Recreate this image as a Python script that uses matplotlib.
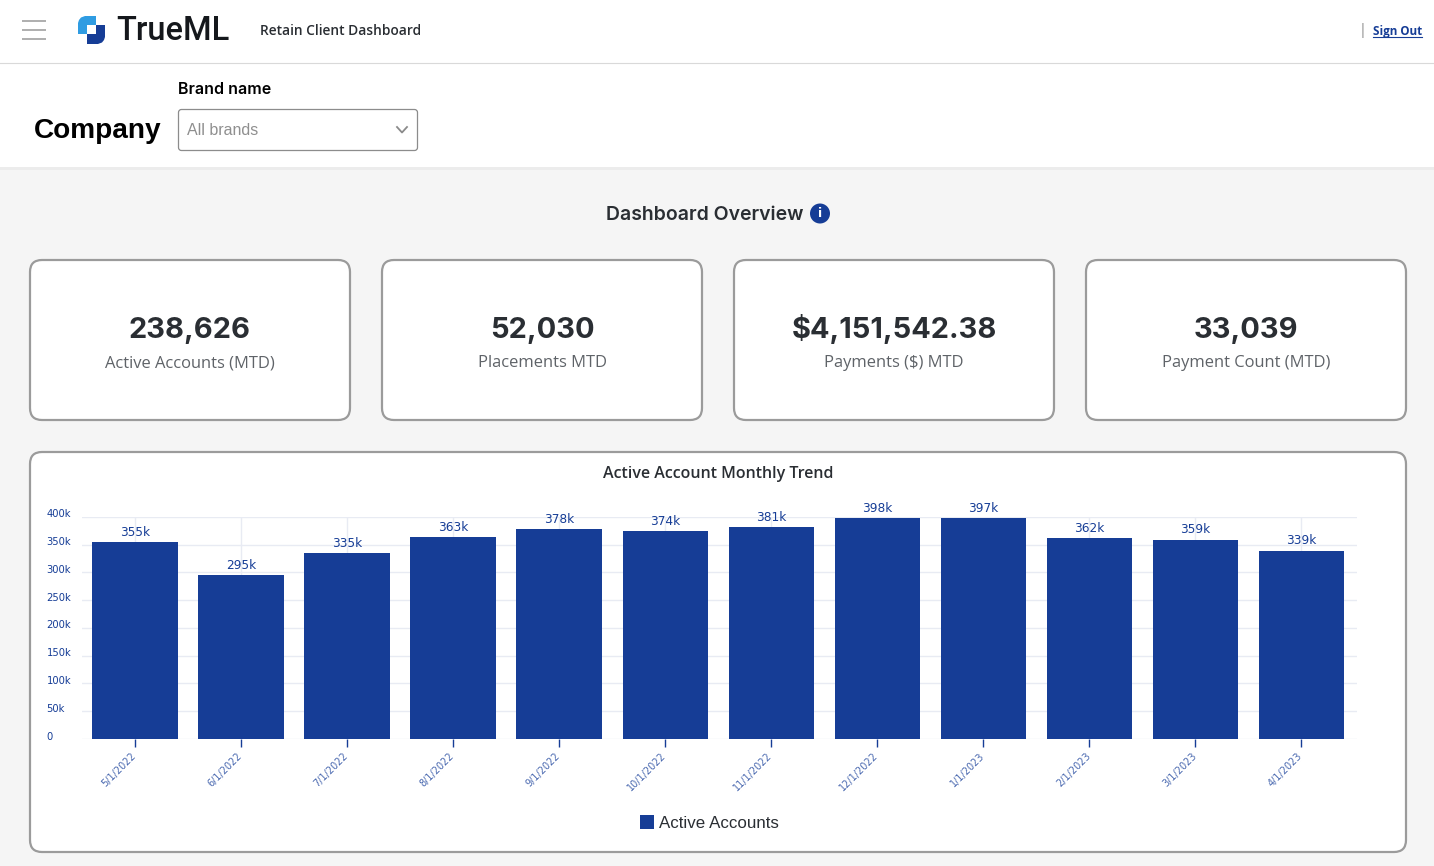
#!/usr/bin/env python

import matplotlib
matplotlib.use("Agg")
import matplotlib.pyplot as plt
from matplotlib.patches import FancyBboxPatch, Polygon, Circle
from matplotlib.transforms import ScaledTranslation

# chart data
months = ["5/1/2022", "6/1/2022", "7/1/2022", "8/1/2022", "9/1/2022", "10/1/2022",
          "11/1/2022", "12/1/2022", "1/1/2023", "2/1/2023", "3/1/2023", "4/1/2023"]
active_accounts = [355000, 295000, 335000, 363000, 378000, 374000,
                   381000, 398000, 397000, 362000, 359000, 339000]
y_ticks = [0, 50000, 100000, 150000, 200000, 250000, 300000, 350000, 400000]
y_tick_labels = ["0", "50k", "100k", "150k", "200k", "250k", "300k", "350k", "400k"]

# KPI cards
card_values = ["238,626", "52,030", "$4,151,542.38", "33,039"]
card_names = ["Active Accounts (MTD)", "Placements MTD", "Payments ($) MTD", "Payment Count (MTD)"]
card_lefts = [30, 382, 734, 1086]

W, H = 1434, 866
BLUE = "#163d96"
GRID = "#e8ebf3"

plt.rcParams["font.family"] = ["Inter", "DejaVu Sans"]

fig = plt.figure(figsize=(W / 100, H / 100), dpi=100, facecolor="#f5f5f5")

# page layer, in pixels
page = fig.add_axes([0, 0, 1, 1], zorder=0)
page.set_xlim(0, W)
page.set_ylim(H, 0)
page.axis("off")

page.fill_between([0, W], 0, 167, color="white", lw=0)
page.fill_between([0, W], 167, 170, color="#ececec", lw=0)
page.plot([0, W], [62.5, 62.5], color="#d9d9d9", lw=0.8)

# hamburger menu
for y in [20.5, 29.5, 39]:
    page.plot([22, 46], [y, y], color="#a8a8a8", lw=1.3, solid_capstyle="butt")

# logo
page.add_patch(Polygon([(85, 16), (96, 16), (96, 25), (87, 25), (87, 34), (78, 34), (78, 23),
                        (79, 20), (81, 17.5)],
                       closed=True, fc="#2f9ce2", ec="none"))
page.add_patch(Polygon([(96, 25), (105, 25), (105, 37), (104, 40), (102, 42.5), (98, 44), (87, 44),
                        (87, 34), (96, 34)],
                       closed=True, fc=BLUE, ec="none"))
page.text(116, 31, "TrueML", fontsize=23.5, color="#15181c", va="center", ha="left",
          family="Roboto", weight="medium")
page.text(260, 31, "Retain Client Dashboard", fontsize=9.9, color="#2a2e33", va="center",
          ha="left", family="Open Sans", weight="semibold")
page.text(1361, 31, "|", fontsize=8.5, color="#777777", va="center", ha="left")
page.text(1373, 31, "Sign Out", fontsize=8.4, color=BLUE, va="center", ha="left",
          family="Open Sans", weight="bold")
page.plot([1373, 1422], [36.5, 36.5], color=BLUE, lw=0.8)

# brand filter
page.text(34, 131, "Company", fontsize=20.2, weight="bold", color="black", va="center", ha="left",
          family="Liberation Sans")
page.text(178.5, 90, "Brand name", fontsize=11.5, weight="semibold", color="black", va="center", ha="left")
page.add_patch(FancyBboxPatch((178.5, 109.5), 239, 41, boxstyle="round,pad=0,rounding_size=3",
                              fc="white", ec="#8c8c8c", lw=0.9))
page.text(187, 130.5, "All brands", fontsize=11.5, color="#8f8f8f", va="center", ha="left",
          family="Liberation Sans")
page.plot([397, 402, 407], [127, 132.5, 127], color="#8a8a8a", lw=1.3)

# section heading
page.text(606, 215, "Dashboard Overview", fontsize=14, weight="semibold", color="#2a2e33",
          va="center", ha="left")
page.add_patch(Circle((820, 213.5), 10, fc=BLUE, ec="none"))
page.text(820, 213.5, "i", fontsize=9, weight="bold", color="white", va="center", ha="center",
          family="DejaVu Sans")

# KPI cards
for left, value, name in zip(card_lefts, card_values, card_names):
    page.add_patch(FancyBboxPatch((left, 260), 320, 160, boxstyle="round,pad=0,rounding_size=12",
                                  fc="white", ec="#9b9b9b", lw=1.6))
    page.text(left + 160, 338, value, fontsize=20.9, weight="bold", color="#2a2e33",
              va="baseline", ha="center")
    page.text(left + 160, 367, name, fontsize=11.9, color="#5f6368", va="baseline", ha="center",
              family="Open Sans")

# chart card
page.add_patch(FancyBboxPatch((30, 452), 1376, 400, boxstyle="round,pad=0,rounding_size=12",
                              fc="white", ec="#9b9b9b", lw=1.6))
page.text(718, 474, "Active Account Monthly Trend", fontsize=11.5, weight="semibold", color="#2a2e33",
          va="center", ha="center", family="Open Sans")

# bar chart, plot area 81.5..1356.5 x 516.8..739 px
ax = fig.add_axes([81.5 / W, 1 - 739 / H, 1275 / W, (739 - 516.8) / H], zorder=1)
ax.patch.set_alpha(0)
x = list(range(len(months)))
bars = ax.bar(x, active_accounts, width=0.805, color=BLUE, zorder=3, label="Active Accounts")
ax.set_xlim(-0.505, 11.52)
ax.set_ylim(0, 400000)
ax.set_axisbelow(True)
ax.grid(True, color=GRID, lw=1)
for s in ax.spines.values():
    s.set_visible(False)

ax.bar_label(bars, labels=[f"{v // 1000}k" for v in active_accounts], padding=2.3,
             fontsize=8.7, color=BLUE, family="DejaVu Sans")

ax.set_xticks(x)
ax.set_xticklabels(months, rotation=45, ha="right", rotation_mode="anchor",
                   fontsize=7, color="#4a69b0", family="DejaVu Sans")
ax.tick_params(axis="x", length=5.8, width=1, color=BLUE, pad=2.6)
left_shift = ScaledTranslation(-4 / 100, 0, fig.dpi_scale_trans)
for lab in ax.get_xticklabels():
    lab.set_transform(lab.get_transform() + left_shift)

ax.set_yticks(y_ticks)
ax.set_yticklabels(y_tick_labels, fontsize=7.2, color=BLUE, ha="left", family="DejaVu Sans")
ax.tick_params(axis="y", length=0, pad=25.2)
up = ScaledTranslation(0, 3.5 / 100, fig.dpi_scale_trans)
for lab in ax.get_yticklabels():
    lab.set_transform(lab.get_transform() + up)

leg = ax.legend(loc="center", bbox_to_anchor=(709.5 / W, 1 - 823 / H), bbox_transform=fig.transFigure,
                frameon=False, handlelength=0.85, handleheight=0.85, handletextpad=0.3,
                prop={"family": "Liberation Sans", "size": 12.2})
leg.get_texts()[0].set_color("#2a2e33")

fig.savefig("out.png", dpi=100, facecolor=fig.get_facecolor())
